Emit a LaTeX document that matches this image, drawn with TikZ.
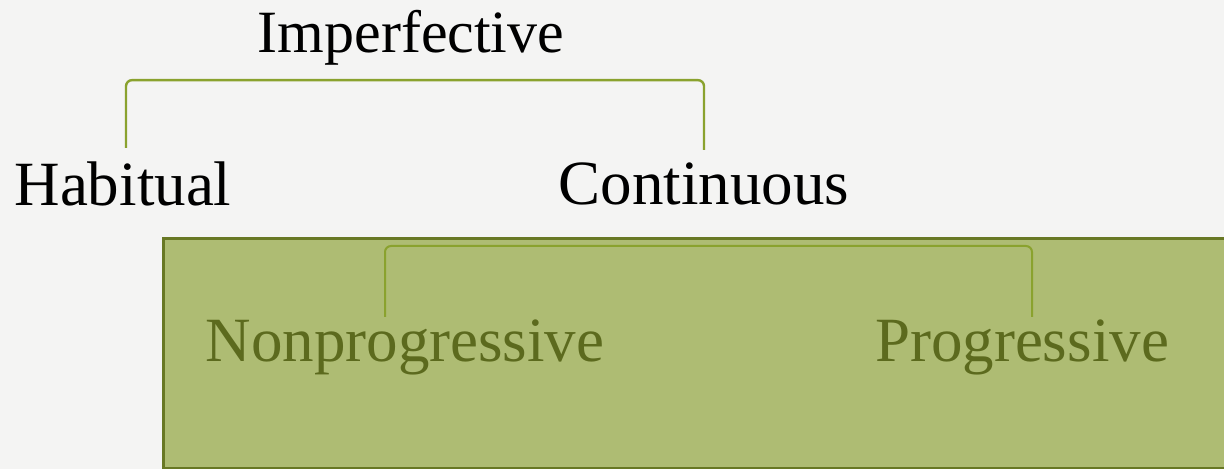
\documentclass[tikz,border=0pt]{standalone}
\usepackage{fontspec}
\setmainfont{Liberation Serif}
\usepackage{xcolor}
\usepackage{tikz}
\usetikzlibrary{positioning,calc}
\definecolor{pagegray}{RGB}{244,244,243}
\definecolor{bracketgreen}{RGB}{138,162,46}
\definecolor{panelfill}{RGB}{174,188,115}
\definecolor{paneldraw}{RGB}{104,120,36}
\definecolor{subtext}{RGB}{92,106,30}

\begin{document}
\begin{tikzpicture}[
    x=0.5pt, y=-0.5pt,
    toplabel/.style={inner sep=0pt, anchor=base, font=\fontsize{30}{36}\selectfont},
    leaflabel/.style={inner sep=0pt, anchor=base, font=\fontsize{31.5}{36}\selectfont},
    sublabel/.style={inner sep=0pt, anchor=base, font=\fontsize{31.5}{36}\selectfont, text=subtext},
    panel/.style={draw=paneldraw, fill=panelfill, line width=1.5pt, anchor=north west, inner sep=0pt},
    bracket/.style={draw=bracketgreen, line width=1.2pt, rounded corners=3pt},
]

% ─────────────────────────────────────────
% Page
% ─────────────────────────────────────────
\fill[pagegray] (0,0) rectangle (1224,469);
\useasboundingbox (0,0) rectangle (1224,469);
\clip (0,0) rectangle (1224,469);

% ─────────────────────────────────────────
% Upper level: Imperfective
% ─────────────────────────────────────────
\node[toplabel] (imperf) at (411,53) {Imperfective};
\node[leaflabel] (habit) at (123,206) {Habitual};
\node[leaflabel] (contin) at (704,205) {Continuous};

\draw[bracket] ([xshift=1.5pt,yshift=7pt]habit.north) |- ([yshift=-7pt]imperf.south)
    -| ([yshift=6.5pt]contin.north);

% ─────────────────────────────────────────
% Lower level: Continuous split
% ─────────────────────────────────────────
\node[panel, minimum width=560pt, minimum height=115pt] (panel) at (162,237) {};

\node[sublabel] (nonprog) at (405,362) {Nonprogressive};
\node[sublabel] (prog) at (1022,362) {Progressive};

\draw[bracket, line width=1pt] ([xshift=-10pt,yshift=1.5pt]nonprog.north) |- ([yshift=-4.5pt]panel.north)
    -| ([xshift=5pt,yshift=1.5pt]prog.north);

\end{tikzpicture}
\end{document}
